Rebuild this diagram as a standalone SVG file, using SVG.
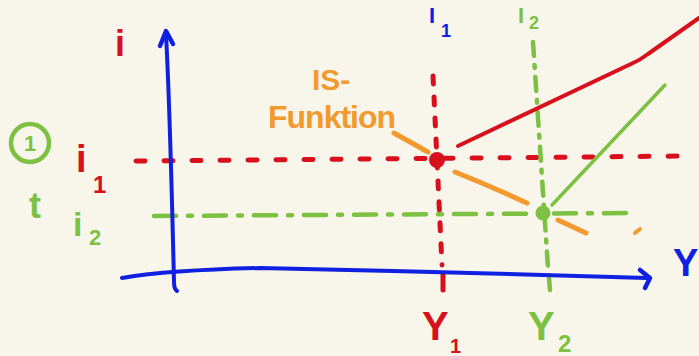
<svg xmlns="http://www.w3.org/2000/svg" width="699" height="356" viewBox="0 0 699 356">
<style>
.s{fill:none;stroke-linecap:round;stroke-linejoin:round}
.blue{stroke:#1020e0}
.red{stroke:#d8101c}
.green{stroke:#7cc142}
.orange{stroke:#f29a2e}
.t{font-family:"Liberation Sans",Arial,sans-serif;font-weight:bold}
.tr{fill:#d8101c}.tb{fill:#1020e0}.tg{fill:#7cc142}.to{fill:#f29a2e}
</style>
<rect width="699" height="356" fill="#f8f5eb"/>
<g id="connectors">
  <path class="s red" stroke-width="5" stroke-dasharray="9 19" d="M136,161 L690,156"/>
  <path class="s green" stroke-width="4.5" stroke-dasharray="22 12 4 12" d="M154,216 L630,213"/>
  <path class="s red" stroke-width="5" stroke-dasharray="8 13" d="M433,76 L442,265"/>
  <path class="s red" stroke-width="5" d="M443,274 L443,290"/>
  <path class="s green" stroke-width="4.5" stroke-dasharray="14 9 3 9" d="M533,42 L548,268"/>
  <path class="s green" stroke-width="4.5" d="M549,278 L550,290"/>
  <path class="s blue" stroke-width="4" d="M166,34 C170,110 172,200 174,282 Q174,289 177,291"/>
  <path class="s blue" stroke-width="4.5" d="M160,46 L166,31 L173,44"/>
  <path class="s blue" stroke-width="4" d="M122,278 Q170,270 260,268 Q450,272 647,278"/>
  <path class="s blue" stroke-width="4.5" d="M640,270 L650,278 L645,288"/>
  <path class="s orange" stroke-width="5" d="M394,133 L428,152"/>
  <path class="s orange" stroke-width="5" d="M455,172 Q490,186 527,203"/>
  <path class="s orange" stroke-width="5" d="M558,220 L586,233"/>
  <path class="s orange" stroke-width="4" d="M635,233 L640,229"/>
  <path class="s red" stroke-width="4" d="M458,146 L633,63 Q640,60 648,54 L699,18"/>
  <path class="s green" stroke-width="3.5" d="M552,205 L665,85"/>
</g>
<g id="point1"><circle cx="437" cy="160" r="8" fill="#d8101c"/></g>
<g id="point2"><circle cx="543" cy="213" r="7.5" fill="#7cc142"/></g>
<g id="label-i"><text class="t tr" x="115" y="56" font-size="36">i</text></g>
<g id="label-i1"><text class="t tr" x="76" y="172" font-size="38">i</text><text class="t tr" x="93" y="193" font-size="24">1</text></g>
<g id="label-i2"><text class="t tg" x="73" y="236" font-size="34">i</text><text class="t tg" x="89" y="245" font-size="22">2</text></g>
<g id="step1">
  <circle cx="30" cy="143" r="19" fill="none" stroke="#7cc142" stroke-width="4.5"/>
  <text class="t tg" x="30" y="151" font-size="22" text-anchor="middle">1</text>
  <text class="t tg" x="35" y="218" font-size="36" text-anchor="middle">t</text>
</g>
<g id="label-IS"><text class="t to" x="312" y="90" font-size="30">IS-</text>
<text class="t to" x="268" y="128" font-size="32" letter-spacing="-1">Funktion</text></g>
<g id="label-I1"><text class="t tb" x="429" y="23" font-size="22">I</text><text class="t tb" x="441" y="37" font-size="18">1</text></g>
<g id="label-I2"><text class="t tg" x="518" y="23" font-size="22">I</text><text class="t tg" x="529" y="29" font-size="18">2</text></g>
<g id="label-Y1"><text class="t tr" x="422" y="340" font-size="40">Y</text><text class="t tr" x="450" y="353" font-size="20">1</text></g>
<g id="label-Y2"><text class="t tg" x="528" y="340" font-size="40">Y</text><text class="t tg" x="558" y="352" font-size="24">2</text></g>
<g id="label-Y"><text class="t tb" x="673" y="276" font-size="38">Y</text></g>
</svg>
